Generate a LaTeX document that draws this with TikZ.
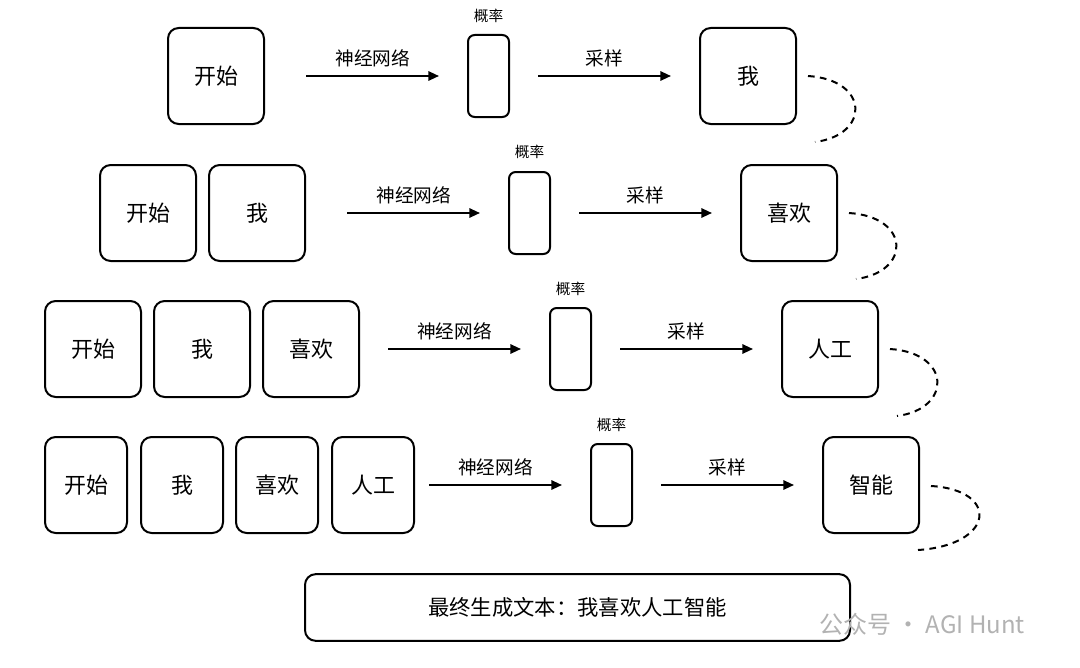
\documentclass[tikz,border=0pt]{standalone}
\usepackage{fontspec}
\setmainfont{Noto Sans CJK SC}
\usetikzlibrary{arrows.meta}
\begin{document}
\begin{tikzpicture}[x=0.75pt,y=-0.75pt,
  box/.style={draw,line width=1.5pt,rounded corners=8pt,inner sep=0pt,font=\fontsize{16.5}{18}\selectfont},
  bx/.style={box,minimum width=72pt,minimum height=72pt},
  sx/.style={box,minimum width=61.5pt,minimum height=72pt},
  prob/.style={draw,line width=1.5pt,rounded corners=5pt,minimum width=30.75pt,minimum height=61.5pt,inner sep=0pt},
  arr/.style={-{Triangle[length=8pt,width=7pt]},line width=1.5pt},
  lab/.style={font=\fontsize{14}{15}\selectfont,above=3pt,midway},
  plab/.style={font=\fontsize{11}{12}\selectfont},
  loop/.style={line width=1.5pt,dash pattern=on 5pt off 4pt}]
\useasboundingbox (0,0) rectangle (1080,667);
% row 1
\node[bx] (r1a) at (216,76) {开始};
\node[prob] (p1) at (488.5,76) {};
\node[plab] (pl1) at (488.5,16) {概率};
\node[bx] (o1) at (748,76) {我};
\draw[arr] ([xshift=31pt]r1a.east) -- ([xshift=-21pt]p1.west) node[lab] {神经网络};
\draw[arr] ([xshift=21pt]p1.east) -- ([xshift=-21pt]o1.west) node[lab] {采样};
\coordinate (c1a) at (808,76); \coordinate (c1b) at (815,142);
\draw[loop] (c1a) .. controls (870,80) and (870,135) .. (c1b);
% row 2
\node[bx] (r2a) at (148,213) {开始};
\node[bx] (r2b) at (257,213) {我};
\node[prob] (p2) at (529.5,213) {};
\node[plab] (pl2) at (529.5,152) {概率};
\node[bx] (o2) at (789,213) {喜欢};
\draw[arr] ([xshift=31pt]r2b.east) -- ([xshift=-21pt]p2.west) node[lab] {神经网络};
\draw[arr] ([xshift=21pt]p2.east) -- ([xshift=-21pt]o2.west) node[lab] {采样};
\coordinate (c2a) at (849,213); \coordinate (c2b) at (856,279);
\draw[loop] (c2a) .. controls (911,217) and (911,272) .. (c2b);
% row 3
\node[bx] (r3a) at (93,349) {开始};
\node[bx] (r3b) at (202,349) {我};
\node[bx] (r3c) at (311,349) {喜欢};
\node[prob] (p3) at (570.5,349) {};
\node[plab] (pl3) at (570.5,289) {概率};
\node[bx] (o3) at (830,349) {人工};
\draw[arr] ([xshift=21pt]r3c.east) -- ([xshift=-21pt]p3.west) node[lab] {神经网络};
\draw[arr] ([xshift=21pt]p3.east) -- ([xshift=-21pt]o3.west) node[lab] {采样};
\coordinate (c3a) at (890,349); \coordinate (c3b) at (897,416);
\draw[loop] (c3a) .. controls (952,353) and (952,409) .. (c3b);
% row 4
\node[sx] (r4a) at (86,485) {开始};
\node[sx] (r4b) at (182,485) {我};
\node[sx] (r4c) at (277,485) {喜欢};
\node[sx] (r4d) at (373,485) {人工};
\node[prob] (p4) at (611.5,485) {};
\node[plab] (pl4) at (611.5,425) {概率};
\node[bx] (o4) at (871,485) {智能};
\draw[arr] ([xshift=10.5pt]r4d.east) -- ([xshift=-21pt]p4.west) node[lab] {神经网络};
\draw[arr] ([xshift=21pt]p4.east) -- ([xshift=-21pt]o4.west) node[lab] {采样};
\coordinate (c4a) at (931,486); \coordinate (c4b) at (918,550);
\draw[loop] (c4a) .. controls (1000,490) and (995,545) .. (c4b);
% final
\node[box,minimum width=408.75pt,minimum height=50pt,font=\fontsize{16}{18}\selectfont] (fin) at (577.5,607.5) {最终生成文本：我喜欢人工智能};
\node[text=gray!60,font=\fontsize{18}{20}\selectfont] (wm) at (922,624) {公众号 · AGI Hunt};
\end{tikzpicture}
\end{document}
